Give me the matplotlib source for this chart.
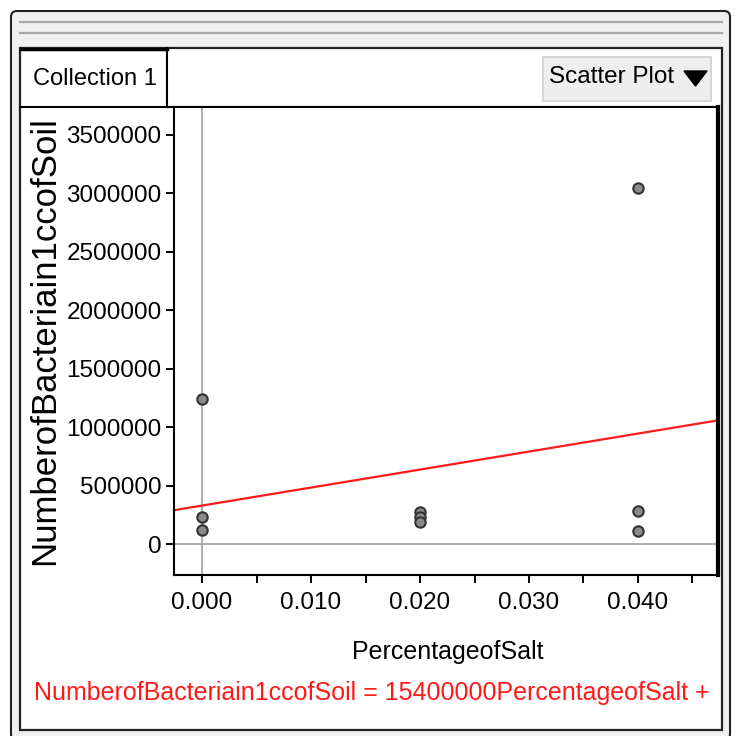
import matplotlib
matplotlib.use('Agg')
import matplotlib.pyplot as plt
from matplotlib.patches import Rectangle, FancyBboxPatch, Polygon
from matplotlib.lines import Line2D
import numpy as np

plt.rcParams['font.family'] = ['Liberation Sans', 'DejaVu Sans']

# Данные
salt = [0.0, 0.0, 0.0, 0.02, 0.02, 0.02, 0.04, 0.04, 0.04]
bacteria = [1240000, 233000, 120000, 272000, 230000, 188000, 3050000, 285000, 114000]
slope = 15400000
intercept = 329000
x_ticks = [0.000, 0.010, 0.020, 0.030, 0.040]
y_ticks = [0, 500000, 1000000, 1500000, 2000000, 2500000, 3000000, 3500000]

W, H = 738, 736
fig = plt.figure(figsize=(W / 100, H / 100), dpi=100)
fig.patch.set_facecolor('white')


def fx(px):
    return px / W


def fy(py):
    return 1 - py / H


def frect(x0, y0, x1, y1, **kw):
    r = Rectangle((fx(x0), fy(y1)), fx(x1) - fx(x0), fy(y0) - fy(y1),
                  transform=fig.transFigure, **kw)
    fig.patches.append(r)
    return r


def fline(xs, ys, **kw):
    fig.lines.append(Line2D([fx(v) for v in xs], [fy(v) for v in ys],
                            transform=fig.transFigure, **kw))


# Окно
outer = FancyBboxPatch((fx(11), fy(740)), fx(730) - fx(11), fy(11) - fy(740),
                       boxstyle='round,pad=0,rounding_size=0.008',
                       transform=fig.transFigure, facecolor='#f0f0f0',
                       edgecolor='#222222', linewidth=1.5)
fig.patches.append(outer)
fline([20, 722], [22, 22], color='#a8a8a8', lw=1.6)
fline([20, 722], [33, 33], color='#a8a8a8', lw=1.6)
frect(20, 48, 722, 730, facecolor='white', edgecolor='#222222', linewidth=1.6)

# Вкладка и меню
fline([20, 718], [107, 107], color='black', lw=1.5)
fline([167, 167], [48, 107], color='black', lw=1.5)
fline([21, 167], [49, 49], color='black', lw=2.5)
fig.text(fx(95), fy(79), 'Collection 1', fontsize=17, ha='center', va='center')
frect(543, 57, 711, 101, facecolor='#eeeeee', edgecolor='#d0d0d0', linewidth=1.2)
fig.text(fx(612), fy(77), 'Scatter Plot', fontsize=17.5, ha='center', va='center')
tri = Polygon([[fx(684), fy(71)], [fx(707), fy(71)], [fx(695.5), fy(86)]],
              closed=True, transform=fig.transFigure, color='black')
fig.patches.append(tri)

# График
ax = fig.add_axes([fx(174), fy(575), fx(718) - fx(174), fy(107) - fy(575)])
ax.set_zorder(5)
ax.set_xlim(-0.00257, 0.04734)
ax.set_ylim(-265000, 3739000)
ax.axhline(0, color='#a8a8a8', lw=1.3, zorder=1)
ax.axvline(0, color='#a8a8a8', lw=1.3, zorder=1)

xx = np.array(ax.get_xlim())
ax.plot(xx, slope * xx + intercept, color='#ff1a1a', lw=1.6, zorder=2)
ax.plot(salt, bacteria, 'o', ms=7.5, markerfacecolor='#8a8a8a',
        markeredgecolor='#333333', markeredgewidth=1.5, zorder=3)

ax.set_xticks(x_ticks)
ax.set_xticklabels(['%.3f' % v for v in x_ticks])
ax.set_xticks(np.arange(0.005, 0.047, 0.01), minor=True)
ax.set_yticks(y_ticks)
ax.set_yticklabels([str(v) for v in y_ticks])
ax.tick_params(axis='both', labelsize=17.5, length=6, width=1.4, direction='out', pad=6)
ax.tick_params(axis='x', which='minor', length=6, width=1.4)
ax.tick_params(axis='y', pad=3)
for s in ['left', 'bottom', 'top']:
    ax.spines[s].set_linewidth(1.5)
ax.spines['right'].set_linewidth(3)

fig.text(fx(45), fy(341), 'NumberofBacteriain1ccofSoil', fontsize=25,
         rotation=90, ha='center', va='center')
fig.text(fx(448), fy(652), 'PercentageofSalt', fontsize=18, ha='center', va='center')
fig.text(fx(372), fy(693), 'NumberofBacteriain1ccofSoil = 15400000PercentageofSalt +',
         fontsize=18, color='#ff1a1a', ha='center', va='center')

plt.savefig('out.png', dpi=100)
